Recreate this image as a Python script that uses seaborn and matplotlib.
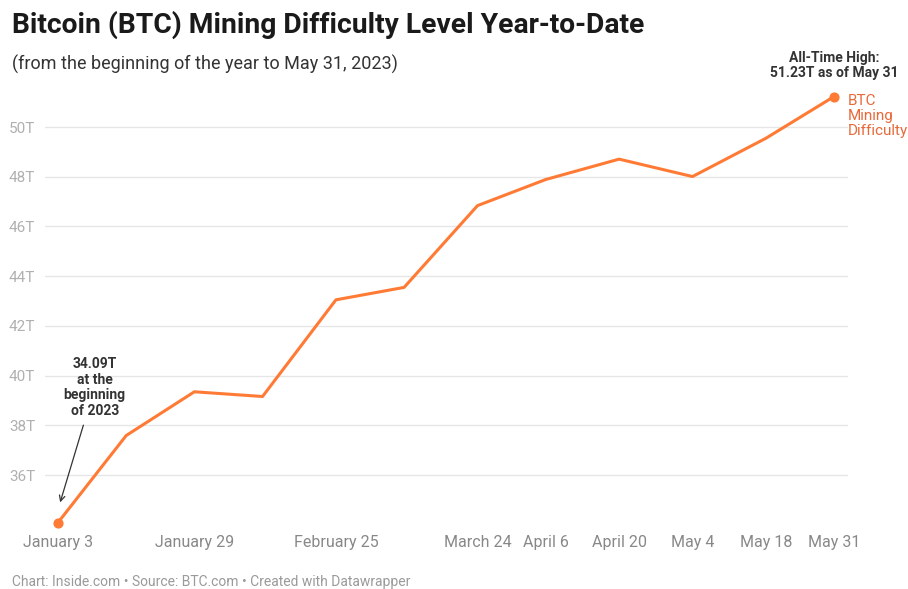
import numpy as np
import pandas as pd
import matplotlib
matplotlib.use('Agg')
import matplotlib.pyplot as plt
import seaborn as sns

# Data: day of year 2023 and difficulty (trillions)
days = [3, 16, 29, 42, 56, 69, 83, 96, 110, 124, 138, 151]
difficulty = [34.09, 37.59, 39.35, 39.16, 43.05, 43.55, 46.84, 47.89, 48.71, 48.01, 49.55, 51.23]
tick_days = [3, 29, 56, 83, 96, 110, 124, 138, 151]
tick_labels = ['January 3', 'January 29', 'February 25', 'March 24', 'April 6',
               'April 20', 'May 4', 'May 18', 'May 31']
y_ticks = [36, 38, 40, 42, 44, 46, 48, 50]

df = pd.DataFrame({'day': days, 'difficulty': difficulty})

sns.set_style('white')
plt.rcParams['font.family'] = ['Roboto', 'DejaVu Sans']

line_color = '#FF7B35'

fig = plt.figure(figsize=(9.08, 5.89), dpi=100)
ax = fig.add_axes([0.0496, 0.0922, 0.8844, 0.768])

sns.lineplot(data=df, x='day', y='difficulty', ax=ax, color=line_color, linewidth=2.2)
ax.scatter([days[0], days[-1]], [difficulty[0], difficulty[-1]], color=line_color, s=40, zorder=5)

ax.set_xlim(0.52, 153.67)
ax.set_ylim(33.6, 51.8)

# Grid
for y in y_ticks:
    ax.axhline(y, color='#e6e6e6', linewidth=1, zorder=0)

ax.set_yticks(y_ticks)
ax.set_yticklabels([f'{v}T' for v in y_ticks], color='#b0b0b0', fontsize=11)
ax.set_xticks(tick_days)
ax.set_xticklabels(tick_labels, color='#888888', fontsize=11.5)
ax.tick_params(axis='both', length=0)
ax.tick_params(axis='y', pad=7)
ax.tick_params(axis='x', pad=0)
for s in ax.spines.values():
    s.set_visible(False)
ax.set_xlabel('')
ax.set_ylabel('')

# Series label
ax.text(days[-1] + 2.6, difficulty[-1] + 0.1, 'BTC\nMining\nDifficulty', color='#E8693A',
        fontsize=11, va='top', ha='left', linespacing=1.1,
        clip_on=False)
# All-time high note
ax.text(days[-1], difficulty[-1] + 0.65, 'All-Time High:\n51.23T as of May 31',
        ha='center', va='bottom', fontsize=10, fontweight='bold', color='#333333',
        linespacing=1.15, clip_on=False)
# Beginning note
ax.annotate('34.09T\nat the\nbeginning\nof 2023', xy=(3.4, 34.9), xytext=(10, 38.3),
            ha='center', va='bottom', fontsize=10, fontweight='bold', color='#333333',
            linespacing=1.15,
            arrowprops=dict(arrowstyle='->', color='#333333', lw=0.9,
                            shrinkA=3, shrinkB=0))

# Titles
fig.text(0.013, 0.958, 'Bitcoin (BTC) Mining Difficulty Level Year-to-Date',
         fontsize=20.3, fontweight='bold', color='#1a1a1a', va='center', ha='left')
fig.text(0.013, 0.891, '(from the beginning of the year to May 31, 2023)',
         fontsize=13, color='#333333', va='center', ha='left')
fig.text(0.013, 0.012, 'Chart: Inside.com \u2022 Source: BTC.com \u2022 Created with Datawrapper',
         fontsize=10, color='#9a9a9a', va='center', ha='left')

fig.savefig('out.png', dpi=100, facecolor='white')
